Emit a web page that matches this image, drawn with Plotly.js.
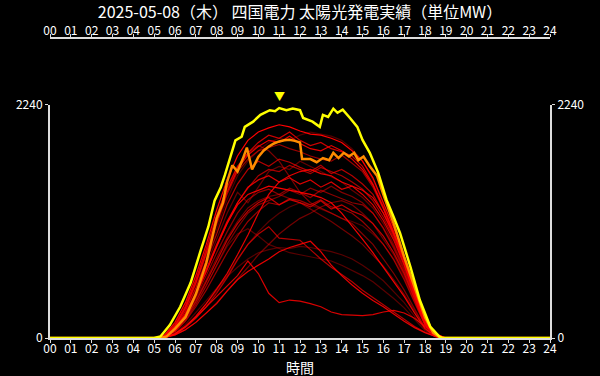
<!DOCTYPE html>
<html><head><meta charset="utf-8">
<script src="https://cdn.plot.ly/plotly-3.0.1.min.js"></script>
<style>html,body{margin:0;padding:0;background:#000;}</style>
</head><body><div id="chart" style="width:600px;height:376px;"></div>
<script>
const TITLE = '2025-05-08（木） 四国電力 太陽光発電実績（単位MW）';
const X_TITLE = '時間';
const HOUR_TICKS = [0,1,2,3,4,5,6,7,8,9,10,11,12,13,14,15,16,17,18,19,20,21,22,23,24];
const HOUR_LABELS = ['00','01','02','03','04','05','06','07','08','09','10','11','12','13','14','15','16','17','18','19','20','21','22','23','24'];
const Y_TICKS = [0, 2240];

// past days (red), 30-min samples
const RED_HOURS = [0,5,5.5,6,6.5,7,7.5,8,8.5,9,9.5,10,10.5,11,11.5,12,12.5,13,13.5,14,14.5,15,15.5,16,16.5,17,17.5,18,18.5,19,24];
const RED_01 = [0,0,30,150,340,600,900,1230,1520,1750,1900,1980,2020,2050,2030,1990,1960,1950,1920,1880,1800,1700,1540,1300,1060,790,480,190,40,0,0];
const RED_02 = [0,0,25,130,310,560,860,1180,1450,1650,1780,1880,1950,1920,1980,1900,1850,1880,1820,1790,1750,1650,1480,1260,1020,760,460,180,35,0,0];
const RED_03 = [0,0,20,110,280,520,800,1100,1380,1600,1720,1800,1830,1860,1820,1790,1750,1720,1700,1760,1680,1600,1450,1240,1000,740,440,170,30,0,0];
const RED_04 = [0,0,20,100,260,480,740,1000,1280,1480,1620,1700,1650,1720,1690,1640,1600,1660,1580,1620,1560,1480,1380,1200,980,720,430,160,30,0,0];
const RED_05 = [0,0,15,90,230,430,660,900,1120,1300,1450,1520,1560,1500,1540,1480,1520,1450,1500,1430,1460,1380,1280,1130,940,700,420,150,25,0,0];
const RED_06 = [0,0,15,80,210,390,600,820,1020,1200,1330,1400,1430,1380,1440,1400,1350,1420,1380,1340,1300,1280,1200,1060,880,660,400,140,25,0,0];
const RED_07 = [0,0,10,70,190,350,540,740,940,1100,1220,1300,1350,1280,1330,1300,1260,1320,1240,1280,1220,1180,1100,980,820,620,380,130,20,0,0];
const RED_08 = [0,0,12,75,200,370,560,770,960,1120,1250,1320,1360,1380,1340,1300,1240,1180,1120,1050,980,900,800,690,560,420,260,100,15,0,0];
const RED_09 = [0,0,5,40,110,210,330,470,620,800,990,1200,1380,1500,1560,1600,1620,1580,1560,1500,1460,1420,1350,1200,1000,760,450,170,30,0,0];
const RED_10 = [0,0,10,60,160,300,460,640,820,980,1120,1220,1300,1280,1340,1320,1280,1330,1260,1240,1200,1120,1020,900,750,560,340,120,20,0,0];
const RED_11 = [0,0,20,120,300,550,840,1150,1420,1640,1780,1850,1800,1700,1550,1400,1300,1250,1200,1150,1100,1000,900,760,620,460,280,100,15,0,0];
const RED_12 = [0,0,5,30,80,150,240,330,450,560,640,700,760,830,870,900,930,830,700,600,510,430,360,300,230,160,100,50,15,0,0];
const RED_13 = [0,0,5,40,110,200,300,400,500,600,740,620,430,340,365,355,330,300,250,225,220,215,225,250,265,240,190,110,40,0,0];
const RED_14 = [0,0,5,35,100,190,300,430,580,750,900,1000,1070,960,950,940,850,760,680,610,540,460,390,320,250,180,110,55,15,0,0];
const RED_15 = [0,0,5,30,80,150,240,340,450,560,680,800,900,1000,1080,1150,1200,1260,1300,1320,1280,1200,1100,950,800,600,360,130,20,0,0];
const RED_16 = [0,0,8,50,130,240,360,480,590,680,760,820,850,870,860,880,870,850,830,800,760,700,630,550,450,340,210,80,12,0,0];
const RED_17 = [0,0,15,90,240,450,700,950,1200,1400,1300,1450,1600,1650,1620,1700,1650,1600,1550,1500,1420,1350,1250,1100,900,680,400,150,25,0,0];
const RED_18 = [0,0,18,100,260,480,760,1050,1330,1560,1700,1800,1880,1920,1900,1950,1980,1960,1940,1900,1820,1700,1520,1280,1030,760,460,180,35,0,0];
const RED_19 = [0,0,12,70,180,330,510,700,880,1000,1050,980,900,860,820,800,780,760,740,700,650,600,540,460,380,290,180,70,10,0,0];
const RED_20 = [0,0,15,90,230,420,640,880,1100,1280,1380,1420,1460,1440,1420,1400,1380,1350,1300,1200,1080,950,820,680,540,400,240,90,15,0,0];
const RED_21 = [0,0,20,115,290,530,820,1120,1400,1620,1760,1840,1900,1880,1940,1870,1820,1800,1850,1800,1720,1620,1470,1250,1010,750,450,175,32,0,0];
const RED_22 = [0,0,10,65,170,320,500,700,900,1060,1200,1280,1320,1360,1420,1380,1440,1400,1460,1400,1360,1300,1200,1050,860,640,390,135,22,0,0];
const RED_23 = [0,0,12,80,220,410,640,880,1100,1300,1440,1560,1620,1600,1660,1620,1580,1640,1600,1560,1500,1430,1320,1160,960,710,420,155,28,0,0];
const RED_24 = [0,0,6,40,110,200,320,450,600,760,900,1020,1120,1200,1260,1300,1280,1240,1200,1150,1120,1080,1000,900,760,580,350,125,20,0,0];

// yesterday (orange)
const YEST_HOURS = [0,5.3,5.6,6.0,6.5,7.0,7.5,8.0,8.3,8.5,8.75,9.0,9.25,9.45,9.7,10.0,10.25,10.5,10.75,11.0,11.25,11.5,11.75,12.0,12.1,12.5,12.8,13.1,13.4,13.6,13.85,14.1,14.35,14.6,14.8,15.05,15.35,15.7,16.0,16.5,17.0,17.5,18.0,18.4,18.75,24];
const YEST_MW = [0,0,15,90,200,420,720,1150,1300,1500,1660,1600,1720,1830,1620,1740,1800,1840,1870,1890,1900,1905,1895,1880,1720,1720,1690,1730,1710,1780,1730,1780,1745,1780,1710,1745,1650,1560,1380,1100,780,480,200,50,0,0];

// today (yellow)
const TODAY_HOURS = [0,5.0,5.3,5.75,6.25,6.75,7.2,7.6,7.9,8.2,8.4,8.6,8.9,9.2,9.35,9.75,10.1,10.55,10.8,11.0,11.35,11.65,12.0,12.15,12.6,12.95,13.1,13.35,13.6,13.8,14.05,14.4,14.75,15.0,15.35,15.75,16.15,16.5,16.8,17.3,17.75,18.25,18.7,18.85,24];
const TODAY_MW = [0,0,15,125,300,530,820,1070,1320,1450,1570,1700,1900,1935,2030,2080,2145,2190,2180,2210,2190,2205,2190,2115,2080,2030,2145,2125,2205,2165,2195,2115,2030,1905,1780,1590,1330,1160,1010,685,365,110,12,0,0];

const RED_SERIES = [RED_18,RED_16,RED_24,RED_19,RED_17,RED_15,RED_08,RED_22,RED_11,RED_06,RED_03,RED_10,RED_23,RED_04,RED_14,RED_07,RED_02,RED_13,RED_05,RED_12,RED_21,RED_09,RED_20,RED_01];
const RED_ALPHA = [0.3,0.35,0.35,0.35,0.4,0.45,0.45,0.5,0.5,0.55,0.6,0.6,0.65,0.7,0.7,0.75,0.8,0.85,0.85,0.9,0.9,0.9,0.95,1.0];

const traces = [];
RED_SERIES.forEach((s, i) => {
  traces.push({x: RED_HOURS, y: s, type: 'scatter', mode: 'lines',
    line: {color: 'rgba(255,0,0,' + RED_ALPHA[i] + ')', width: 1.2}, hoverinfo: 'skip'});
});
traces.push({x: YEST_HOURS, y: YEST_MW, type: 'scatter', mode: 'lines', line: {color: '#ff8c00', width: 2.5}});
// today's line drawn on the overlaid top/right axes (identical ranges) so those axes render
traces.push({x: TODAY_HOURS, y: TODAY_MW, type: 'scatter', mode: 'lines', xaxis: 'x2', yaxis: 'y2',
  line: {color: '#ffff00', width: 2.5}});

let maxI = 0;
TODAY_MW.forEach((v, i) => { if (v > TODAY_MW[maxI]) maxI = i; });

const FAMILY = 'Noto Sans CJK JP, Noto Sans, sans-serif';
const axCol = '#dddddd';
const tickFont = {family: FAMILY, size: 12, color: '#ffffff'};
const xCommon = {range: [0, 24], tickmode: 'array', tickvals: HOUR_TICKS, ticktext: HOUR_LABELS,
  showline: true, linecolor: axCol, linewidth: 2, ticks: 'outside', ticklen: 3, tickwidth: 1, tickcolor: axCol,
  showgrid: false, zeroline: false, tickfont: tickFont, fixedrange: true};
const yCommon = {range: [0, 2240], tickmode: 'array', tickvals: Y_TICKS,
  showline: true, linecolor: axCol, linewidth: 2, ticks: 'outside', ticklen: 3, tickwidth: 1, tickcolor: axCol,
  showgrid: false, zeroline: false, tickfont: tickFont, fixedrange: true};

const layout = {
  width: 600, height: 376,
  paper_bgcolor: '#000000', plot_bgcolor: '#000000',
  font: {family: FAMILY, color: '#ffffff', size: 12}, showlegend: false,
  margin: {l: 50, r: 50, t: 38, b: 38},
  title: {text: TITLE, font: {family: FAMILY, size: 16, color: '#ffffff'}, x: 0.5, xanchor: 'center', y: 0.968, yanchor: 'middle', yref: 'container'},
  xaxis: Object.assign({}, xCommon, {ticklabelstandoff: -4}),
  xaxis2: Object.assign({}, xCommon, {overlaying: 'x', side: 'top', anchor: 'free', position: 1, ticklabelstandoff: -6}),
  yaxis: Object.assign({}, yCommon, {domain: [0, 0.7767]}),
  yaxis2: Object.assign({}, yCommon, {overlaying: 'y', side: 'right'}),
  annotations: [
    {x: TODAY_HOURS[maxI], y: TODAY_MW[maxI], xref: 'x', yref: 'y', text: '▼', showarrow: false,
      yanchor: 'bottom', yshift: 2, font: {family: FAMILY, size: 11, color: '#ffff00'}},
    {x: 0.5, y: -0.095, xref: 'paper', yref: 'paper', text: X_TITLE, showarrow: false, borderpad: 0,
      xanchor: 'center', yanchor: 'middle', font: {family: FAMILY, size: 14, color: '#ffffff'}}
  ]
};

Plotly.newPlot('chart', traces, layout, {displayModeBar: false, staticPlot: true});
</script></body></html>
